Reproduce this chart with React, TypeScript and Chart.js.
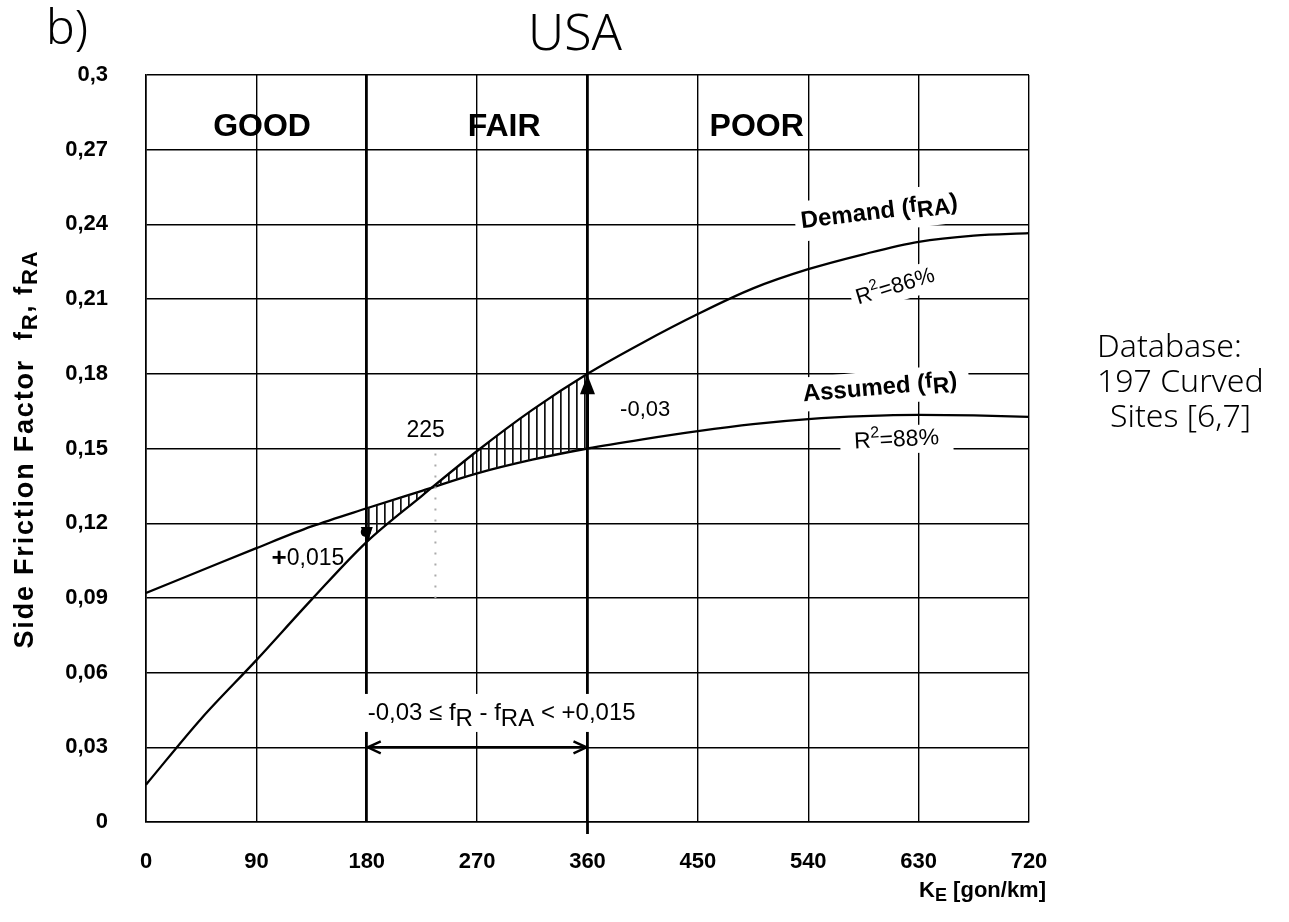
import React, { useEffect, useRef } from "react";
import { Chart, registerables } from "chart.js";

Chart.register(...registerables);

// ---- data ----
const xValues = [0, 45, 90, 135, 180, 225, 270, 315, 360, 405, 450, 495, 540, 585, 630, 675, 720];
const demandValues = [0.015, 0.0415, 0.065, 0.0893, 0.1125, 0.131, 0.149, 0.1655, 0.18, 0.1925, 0.204, 0.2143, 0.222, 0.228, 0.233, 0.2355, 0.2365];
const assumedValues = [0.092, 0.101, 0.11, 0.1187, 0.126, 0.133, 0.14, 0.1455, 0.15, 0.1537, 0.157, 0.1598, 0.1618, 0.163, 0.1635, 0.1633, 0.1627];
const xTicks = [0, 90, 180, 270, 360, 450, 540, 630, 720];
const yTicks = [0, 0.03, 0.06, 0.09, 0.12, 0.15, 0.18, 0.21, 0.24, 0.27, 0.3];
const zoneLabels = ["GOOD", "FAIR", "POOR"];
const zoneCenters = [94.6, 292, 498];
const bandStart = 180;
const bandEnd = 360;
const bandLowDiff = "+0,015";
const bandHighDiff = "-0,03";
const crossingLabel = "225";

const FAM = '"Liberation Sans", Arial, Helvetica, sans-serif';
const B = (s: number) => `bold ${s}px ${FAM}`;
const N = (s: number) => `${s}px ${FAM}`;
const THIN = (s: number) => `300 ${s}px "Noto Sans", "DejaVu Sans", sans-serif`;

type Seg = { t: string; font: string; dy?: number };

function measure(ctx: CanvasRenderingContext2D, segs: Seg[]) {
  let w = 0;
  for (const s of segs) {
    ctx.font = s.font;
    w += ctx.measureText(s.t).width;
  }
  return w;
}

function drawRich(ctx: CanvasRenderingContext2D, segs: Seg[], x: number, y: number) {
  let cx = x;
  for (const s of segs) {
    ctx.font = s.font;
    ctx.fillText(s.t, cx, y + (s.dy || 0));
    cx += ctx.measureText(s.t).width;
  }
}

function label(
  ctx: CanvasRenderingContext2D,
  segs: Seg[],
  cx: number,
  cy: number,
  angle: number,
  mode: "text" | "box",
  padX = 6,
  h = 30,
  spacing = 0
) {
  ctx.save();
  ctx.translate(cx, cy);
  ctx.rotate((angle * Math.PI) / 180);
  ctx.textBaseline = "middle";
  ctx.textAlign = "left";
  (ctx as any).letterSpacing = spacing + "px";
  const w = measure(ctx, segs);
  if (mode === "box") {
    ctx.fillStyle = "#fff";
    ctx.fillRect(-w / 2 - padX, -h / 2, w + 2 * padX, h);
  } else {
    ctx.fillStyle = "#000";
    drawRich(ctx, segs, -w / 2, 0);
  }
  (ctx as any).letterSpacing = "0px";
  ctx.restore();
}

type Lab = { segs: Seg[]; x: number; y: number; a: number; box?: [number, number] };

const labels: Lab[] = [
  {
    segs: [
      { t: "Demand (", font: B(24) },
      { t: "f", font: B(22), dy: -2 },
      { t: "RA", font: B(23), dy: 4 },
      { t: ")", font: B(24) },
    ],
    x: 598,
    y: 0.245,
    a: -7,
    box: [6, 40],
  },
  {
    segs: [
      { t: "R", font: N(22) },
      { t: "2", font: N(15), dy: -8 },
      { t: "=86%", font: N(22) },
    ],
    x: 611,
    y: 0.2149,
    a: -17,
    box: [5, 30],
  },
  {
    segs: [
      { t: "Assumed (", font: B(24) },
      { t: "f", font: B(22), dy: -2 },
      { t: "R", font: B(23), dy: 4 },
      { t: ")", font: B(24) },
    ],
    x: 598.5,
    y: 0.1743,
    a: -5,
    box: [12, 34],
  },
  {
    segs: [
      { t: "R", font: N(23) },
      { t: "2", font: N(16), dy: -8 },
      { t: "=88%", font: N(23) },
    ],
    x: 612,
    y: 0.1534,
    a: -3,
    box: [14, 28],
  },
  { segs: [{ t: bandHighDiff, font: N(22) }], x: 407, y: 0.1655, a: 0 },
  { segs: [{ t: crossingLabel, font: N(23) }], x: 228, y: 0.157, a: 0 },
  {
    segs: [
      { t: "+", font: B(26) },
      { t: bandLowDiff.slice(1), font: N(23) },
    ],
    x: 132,
    y: 0.1056,
    a: 0,
  },
  {
    segs: [
      { t: "-0,03 ≤ f", font: N(24) },
      { t: "R", font: N(24), dy: 6 },
      { t: " - f", font: N(24) },
      { t: "RA", font: N(24), dy: 6 },
      { t: " < +0,015", font: N(24) },
    ],
    x: 290,
    y: 0.0438,
    a: 0,
    box: [6, 38],
  },
];

const annotPlugin = {
  id: "annot",
  beforeDatasetsDraw(chart: any) {
    const ctx = chart.ctx as CanvasRenderingContext2D;
    const xs = chart.scales.x;
    const ys = chart.scales.y;
    for (const l of labels) {
      if (!l.box) continue;
      label(ctx, l.segs, xs.getPixelForValue(l.x), ys.getPixelForValue(l.y), l.a, "box", l.box[0], l.box[1]);
    }
  },
  afterDatasetsDraw(chart: any) {
    const ctx = chart.ctx as CanvasRenderingContext2D;
    const xs = chart.scales.x;
    const ys = chart.scales.y;
    const px = (v: number) => xs.getPixelForValue(v);
    const py = (v: number) => ys.getPixelForValue(v);

    // zone labels
    ctx.save();
    ctx.fillStyle = "#000";
    ctx.textAlign = "center";
    ctx.textBaseline = "middle";
    ctx.font = B(32);
    zoneLabels.forEach((z, i) => ctx.fillText(z, px(zoneCenters[i]), py(0.2791)));
    ctx.restore();

    for (const l of labels) {
      label(ctx, l.segs, px(l.x), py(l.y), l.a, "text");
    }

    ctx.save();
    ctx.strokeStyle = "#000";
    ctx.fillStyle = "#000";
    // double arrow at 0.03
    const yA = py(0.03);
    const x1 = px(bandStart);
    const x2 = px(bandEnd);
    ctx.lineWidth = 2.6;
    ctx.beginPath();
    ctx.moveTo(x1, yA);
    ctx.lineTo(x2, yA);
    ctx.stroke();
    ctx.lineWidth = 2.4;
    ctx.beginPath();
    ctx.moveTo(x1 + 14, yA - 6);
    ctx.lineTo(x1 + 1, yA);
    ctx.lineTo(x1 + 14, yA + 6);
    ctx.moveTo(x2 - 14, yA - 6);
    ctx.lineTo(x2 - 1, yA);
    ctx.lineTo(x2 - 14, yA + 6);
    ctx.stroke();

    // arrow up at bandEnd
    const xe = px(bandEnd);
    ctx.lineWidth = 3;
    ctx.beginPath();
    ctx.moveTo(xe, py(0.15));
    ctx.lineTo(xe, py(0.172));
    ctx.stroke();
    ctx.beginPath();
    ctx.moveTo(xe, py(0.1795));
    ctx.lineTo(xe - 7.5, py(0.1718));
    ctx.lineTo(xe + 7.5, py(0.1718));
    ctx.closePath();
    ctx.fill();

    // arrow down at bandStart
    const xs0 = px(bandStart);
    ctx.beginPath();
    ctx.moveTo(xs0 + 1, py(0.1125));
    ctx.lineTo(xs0 - 6, py(0.1185));
    ctx.lineTo(xs0 + 6, py(0.1185));
    ctx.closePath();
    ctx.fill();
    ctx.beginPath();
    ctx.arc(xs0 - 1, py(0.1165), 5, 0, Math.PI * 2);
    ctx.fill();

    // tick below axis at bandEnd
    ctx.lineWidth = 2.8;
    ctx.beginPath();
    ctx.moveTo(xe, py(0));
    ctx.lineTo(xe, py(0) + 12);
    ctx.stroke();

    // faint dotted line at crossing
    ctx.strokeStyle = "#aaa";
    ctx.lineWidth = 2;
    ctx.setLineDash([2, 9]);
    ctx.beginPath();
    ctx.moveTo(px(236), py(0.148));
    ctx.lineTo(px(236), py(0.09));
    ctx.stroke();
    ctx.restore();
  },
  afterDraw(chart: any) {
    const ctx = chart.ctx as CanvasRenderingContext2D;
    ctx.save();
    ctx.fillStyle = "#000";
    ctx.textBaseline = "middle";

    // panel label and title
    ctx.textAlign = "left";
    ctx.font = THIN(48);
    ctx.fillText("b)", 46, 30);
    ctx.textAlign = "center";
    ctx.font = THIN(50);
    ctx.fillText("USA", 575, 36);

    // database note
    ctx.textAlign = "left";
    ctx.font = THIN(32);
    ctx.fillText("Database:", 1097, 348);
    ctx.fillText("197 Curved", 1097, 383);
    ctx.fillText("Sites [6,7]", 1110, 418);
    ctx.restore();

    // y axis title
    const ySegs: Seg[] = [
      { t: "Side Friction Factor  ", font: B(27) },
      { t: "f", font: B(25), dy: -1 },
      { t: "R", font: B(22), dy: 5 },
      { t: ", f", font: B(25), dy: -1 },
      { t: "RA", font: B(22), dy: 5 },
    ];
    label(ctx, ySegs, 26, 449, -90, "text", 0, 0, 1.8);

    // x axis title
    const xSegs: Seg[] = [
      { t: "K", font: B(22) },
      { t: "E", font: B(18), dy: 5 },
      { t: " [gon/km]", font: B(22) },
    ];
    ctx.save();
    const w = measure(ctx, xSegs);
    ctx.fillStyle = "#000";
    ctx.textBaseline = "middle";
    ctx.textAlign = "left";
    drawRich(ctx, xSegs, 1046 - w, 891);
    ctx.restore();
  },
};

const fmtY = (v: number) => (v === 0 ? "0" : v.toFixed(2).replace(/0$/, "").replace(".", ","));

export default function App() {
  const ref = useRef<HTMLCanvasElement>(null);

  useEffect(() => {
    const canvas = ref.current!;
    const pc = document.createElement("canvas");
    pc.width = 8;
    pc.height = 8;
    const pctx = pc.getContext("2d")!;
    pctx.fillStyle = "#111";
    pctx.fillRect(0, 0, 1.7, 8);
    const hatch = canvas.getContext("2d")!.createPattern(pc, "repeat")!;

    const lw = (c: any) => (c.tick && (c.tick.value === bandStart || c.tick.value === bandEnd) ? 2.8 : 1.4);

    const chart = new Chart(canvas, {
      type: "line",
      data: {
        datasets: [
          {
            label: "Demand (fRA)",
            data: xValues.map((x, i) => ({ x, y: demandValues[i] })),
            borderColor: "#000",
            borderWidth: 2.3,
            pointRadius: 0,
            cubicInterpolationMode: "monotone",
            fill: 1,
            backgroundColor: "rgba(0,0,0,0)",
            segment: {
              backgroundColor: (c: any) =>
                c.p0.parsed.x >= bandStart && c.p1.parsed.x <= bandEnd ? hatch : "rgba(0,0,0,0)",
            },
          } as any,
          {
            label: "Assumed (fR)",
            data: xValues.map((x, i) => ({ x, y: assumedValues[i] })),
            borderColor: "#000",
            borderWidth: 2.3,
            pointRadius: 0,
            cubicInterpolationMode: "monotone",
            fill: false,
          } as any,
        ],
      },
      options: {
        animation: false,
        responsive: false,
        maintainAspectRatio: false,
        layout: { padding: { left: 0, top: 75, right: 260, bottom: 0 } },
        plugins: { legend: { display: false }, tooltip: { enabled: false }, title: { display: false } },
        scales: {
          x: {
            type: "linear",
            min: 0,
            max: 720,
            afterBuildTicks: (s: any) => {
              s.ticks = xTicks.map((v) => ({ value: v }));
            },
            afterFit: (s: any) => {
              s.height = 100;
            },
            grid: { color: "#000", lineWidth: lw, drawTicks: false },
            border: { color: "#000", width: 1.6 },
            ticks: {
              color: "#000",
              font: { family: FAM, size: 22, weight: "bold" },
              padding: 27,
              maxRotation: 0,
              autoSkip: false,
              callback: (v: any) => String(v),
            },
          },
          y: {
            type: "linear",
            min: 0,
            max: 0.3,
            afterBuildTicks: (s: any) => {
              s.ticks = yTicks.map((v) => ({ value: v }));
            },
            afterFit: (s: any) => {
              s.width = 146;
            },
            grid: { color: "#000", lineWidth: 1.4, drawTicks: false },
            border: { color: "#000", width: 1.6 },
            ticks: {
              color: "#000",
              font: { family: FAM, size: 22, weight: "bold" },
              padding: 38,
              autoSkip: false,
              callback: (v: any) => fmtY(Number(v)),
            },
          },
        },
      } as any,
      plugins: [annotPlugin],
    });
    return () => chart.destroy();
  }, []);

  return (
    <div style={{ position: "fixed", left: 0, top: 0, width: 1289, height: 922, background: "#fff" }}>
      <canvas ref={ref} width={1289} height={922} style={{ display: "block" }} />
    </div>
  );
}
